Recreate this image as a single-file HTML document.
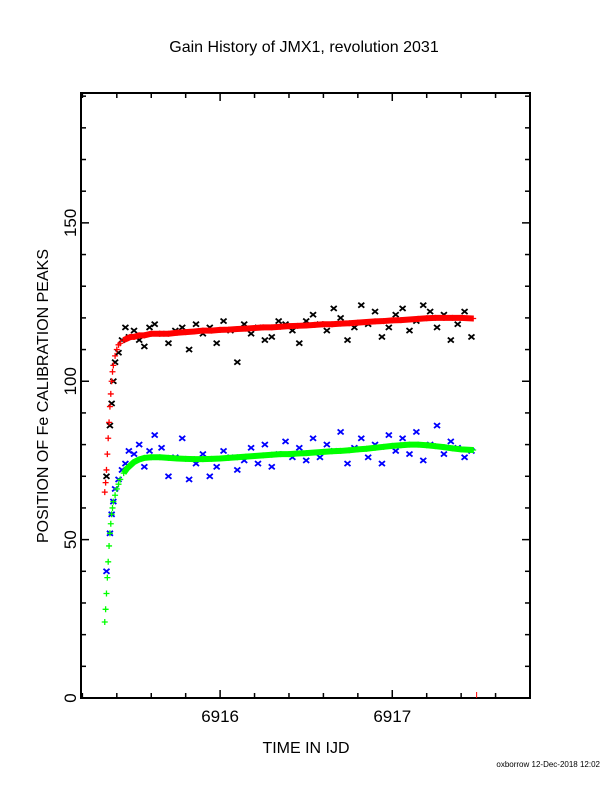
<!DOCTYPE html>
<html><head><meta charset="utf-8"><style>
html,body{margin:0;padding:0;background:#fff;width:612px;height:792px;overflow:hidden}
svg text{font-family:"Liberation Sans",sans-serif}
</style></head><body>
<svg id="c" width="612" height="792" viewBox="0 0 612 792">
<text x="304" y="52" text-anchor="middle" font-size="16">Gain History of JMX1, revolution 2031</text>
<text x="306" y="753" text-anchor="middle" font-size="16">TIME IN IJD</text>
<text transform="translate(48,396) rotate(-90)" text-anchor="middle" font-size="16">POSITION OF Fe CALIBRATION PEAKS</text>
<text x="600" y="767" text-anchor="end" font-size="8">oxborrow 12-Dec-2018 12:02</text>
<g id="axes"></g>
<g id="marks"></g>
</svg>
<script>
const xTicks=[6916,6917];
const yTicks=[0,50,100,150];
const fitT=[6915.33,6915.335,6915.34,6915.345,6915.35,6915.355,6915.36,6915.365,6915.37,6915.375,6915.38,6915.39,6915.40,6915.41,6915.42,6915.44,6915.46,6915.48,6915.50,6915.53,6915.56,6915.60,6915.65,6915.70,6915.75,6915.80,6915.85,6915.90,6915.95,6916.0,6916.05,6916.10,6916.15,6916.20,6916.25,6916.30,6916.35,6916.40,6916.45,6916.50,6916.55,6916.60,6916.65,6916.70,6916.75,6916.80,6916.85,6916.90,6916.95,6917.0,6917.05,6917.10,6917.15,6917.20,6917.25,6917.30,6917.35,6917.40,6917.47];
const redFit=[65,68,72,77,82,87,92,96,100,103,105,108,110,111.5,112,113,113.5,114,114,114.5,114.5,115,115,115,115.3,115.5,115.7,116,116,116.2,116.3,116.5,116.6,116.8,117,117,117.2,117.4,117.5,117.6,117.8,118,118,118.2,118.3,118.5,118.7,118.9,119,119.2,119.3,119.5,119.7,119.9,120,120,120,120,119.8];
const greenFit=[24,28,33,38,43,48,52,55,58,60,62,64,66,67.5,69,71,72.5,73.5,74.5,75.3,75.8,76,76,75.8,75.6,75.5,75.4,75.4,75.5,75.6,75.8,76,76.2,76.4,76.6,76.8,77,77,77.2,77.3,77.5,77.7,77.9,78,78.2,78.5,78.7,79,79.3,79.6,79.8,80,80,79.8,79.5,79.2,78.8,78.5,78.3];
const rawT=[6915.34,6915.36,6915.37,6915.38,6915.39,6915.41,6915.43,6915.45,6915.47,6915.50,6915.53,6915.56,6915.59,6915.62,6915.66,6915.70,6915.74,6915.78,6915.82,6915.86,6915.90,6915.94,6915.98,6916.02,6916.06,6916.10,6916.14,6916.18,6916.22,6916.26,6916.30,6916.34,6916.38,6916.42,6916.46,6916.50,6916.54,6916.58,6916.62,6916.66,6916.70,6916.74,6916.78,6916.82,6916.86,6916.90,6916.94,6916.98,6917.02,6917.06,6917.10,6917.14,6917.18,6917.22,6917.26,6917.30,6917.34,6917.38,6917.42,6917.46];
const blackRaw=[70,86,93,100,106,109,113,117,114,116,113,111,117,118,115,112,116,117,110,118,115,117,112,119,116,106,118,115,117,113,114,119,118,116,112,119,121,118,116,123,120,113,117,124,118,122,114,117,121,123,116,119,124,122,117,121,113,118,122,114];
const blueRaw=[40,52,58,62,66,69,72,74,78,77,80,73,78,83,79,70,76,82,69,74,77,70,73,78,76,72,75,79,74,80,73,77,81,76,79,75,82,76,80,78,84,74,79,82,76,80,74,83,78,82,77,84,75,80,86,77,81,79,76,78];

const X0=6915.192,X1=6917.80,L=81,R=530,T=93,B=698,Y0=0,Y1=191;
const xs=v=>L+(v-X0)/(X1-X0)*(R-L);
const ys=v=>B-(v-Y0)/(Y1-Y0)*(B-T);
const NS='http://www.w3.org/2000/svg';
const axes=document.getElementById('axes'),marks=document.getElementById('marks');
function mk(tag,attrs,parent){const e=document.createElementNS(NS,tag);for(const k in attrs)e.setAttribute(k,attrs[k]);parent.appendChild(e);return e;}

const frame=mk('rect',{x:L,y:T,width:R-L,height:B-T,fill:'none',stroke:'#000','stroke-width':2},axes);


for(let v=6915.2;v<=X1+1e-9;v+=0.2){
  const major=Math.abs(v-Math.round(v))<1e-6;const len=major?8:5;const x=xs(v);
  const t1=mk('line',{x1:x,x2:x,y1:B,y2:B-len,stroke:'#000','stroke-width':1.5},axes);
  
  
  const t2=mk('line',{x1:x,x2:x,y1:T,y2:T+len,stroke:'#000','stroke-width':1.5},axes);
  
  
}
xTicks.forEach(v=>{const t=mk('text',{x:xs(v),y:B+24,'text-anchor':'middle','font-size':17},axes);t.textContent=v;
  
  });
for(let v=0;v<=190;v+=10){
  const major=v%50===0;const len=major?8:5;const y=ys(v);
  const t1=mk('line',{x1:L,x2:L+len,y1:y,y2:y,stroke:'#000','stroke-width':1.5},axes);
  
  
  const t2=mk('line',{x1:R,x2:R-len,y1:y,y2:y,stroke:'#000','stroke-width':1.5},axes);
  
  
}
yTicks.forEach(v=>{const t=mk('text',{transform:`translate(${L-5},${ys(v)}) rotate(-90)`,'text-anchor':'middle','font-size':17},axes);t.textContent=v;
  
  });
const rt=mk('line',{x1:xs(6917.49),x2:xs(6917.49),y1:B-6,y2:B,stroke:'#f00','stroke-width':1},axes);



function plus(x,y,c,name){const g=mk('path',{d:`M${x-3},${y}h6M${x},${y-3}v6`,stroke:c,'stroke-width':1.3,fill:'none'},marks);
  
  }
function cross(x,y,c,name){const g=mk('path',{d:`M${x-3},${y-2.5}l6,5M${x-3},${y+2.5}l6,-5`,stroke:c,'stroke-width':1.8,fill:'none'},marks);
  
  }
rawT.forEach((t,i)=>cross(xs(t),ys(blackRaw[i]),'#000','black-raw-point'));
rawT.forEach((t,i)=>cross(xs(t),ys(blueRaw[i]),'#00f','blue-raw-point'));
function band(vals,c,name){
  const pts=fitT.filter(t=>t>=6915.44).map(t=>xs(t)+','+ys(vals[fitT.indexOf(t)])).join(' ');
  const p=mk('polyline',{points:pts,fill:'none',stroke:c,'stroke-width':6},marks);
  
  
  fitT.forEach((t,i)=>plus(xs(t),ys(vals[i]),c,name+'-point'));
}
band(redFit,'#f00','red-fit');
band(greenFit,'#0f0','green-fit');
</script>
</body></html>
